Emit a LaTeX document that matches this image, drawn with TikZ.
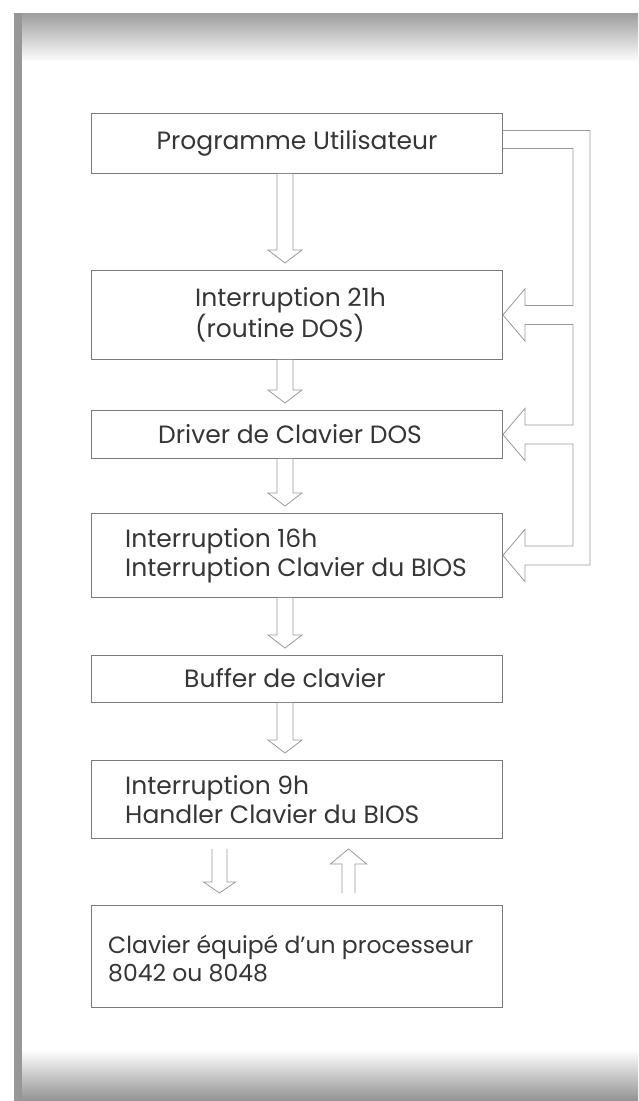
\documentclass[tikz,border=0pt]{standalone}
\usepackage{fontspec}
\setmainfont{Poppins}
\usetikzlibrary{calc}
\definecolor{boxline}{HTML}{7A7A7A}
\definecolor{arrline}{HTML}{9A9A9A}
\definecolor{txtcol}{HTML}{363636}
\definecolor{frameg}{HTML}{8C8C8C}
\tikzset{
  box/.style={draw=boxline, line width=0.9pt, fill=white, inner sep=0pt, anchor=north west, minimum width=411pt},
  txt/.style={inner sep=0pt, text=txtcol, font=\fontsize{25}{29}\selectfont, align=left},
  txtsmall/.style={txt, font=\fontsize{23.5}{28}\selectfont},
  harrow/.style={draw=arrline, line width=0.8pt, fill=white, line join=miter},
  pipe/.style={draw=arrline, line width=0.8pt, line join=miter}
}
% #1 start, #2 tip, #3 shaft half width, #4 head half width, #5 signed head length
\newcommand\hollowarrow[5]{%
  \draw[harrow] ($(#1)+(-#3,0)$) -- ($(#2)+(-#3,#5)$) -- ($(#2)+(-#4,#5)$) -- (#2)
    -- ($(#2)+(#4,#5)$) -- ($(#2)+(#3,#5)$) -- ($(#1)+(#3,0)$);}
\begin{document}
\begin{tikzpicture}[x=1pt,y=-1pt]
\useasboundingbox (0,0) rectangle (638,1101);
% page frame
\fill[white] (0,0) rectangle (638,1101);
\shade[top color=frameg!85, bottom color=white] (14,13) rectangle (638,62);
\shade[top color=white, bottom color=frameg!95] (14,1050) rectangle (638,1101);
\fill[frameg!90] (14,13) rectangle (22,1101);

% boxes
\node[box, minimum height=60pt]  (b1) at (91,113) {};
\node[box, minimum height=89pt]  (b2) at (91,270) {};
\node[box, minimum height=48pt]  (b3) at (91,410) {};
\node[box, minimum height=84pt]  (b4) at (91,513) {};
\node[box, minimum height=47pt]  (b5) at (91,655) {};
\node[box, minimum height=78pt]  (b6) at (91,760) {};
\node[box, minimum height=102pt] (b7) at (91,905) {};

% texts
\node[txt] (t1) at (297,143) {Programme Utilisateur};
\node[txt, anchor=west] (t2) at ($(b2.west)+(104,0)$) {Interruption 21h\\(routine DOS)};
\node[txt] (t3) at (290,434) {Driver de Clavier DOS};
\node[txt, anchor=west] (t4) at ($(b4.west)+(34,0)$) {Interruption 16h\\Interruption Clavier du BIOS};
\node[txt] (t5) at (285,678.5) {Buffer de clavier};
\node[txt, anchor=west] (t6) at ($(b6.west)+(34,0)$) {Interruption 9h\\Handler Clavier du BIOS};
\node[txtsmall, anchor=west] (t7) at ($(b7.west)+(17,2)$) {Clavier équipé d’un processeur\\8042 ou 8048};

% main hollow down arrows
\coordinate (cx) at (285,0);
\foreach \a/\b [count=\i] in {b1/b2,b2/b3,b3/b4,b4/b5,b5/b6}{
  \coordinate (s\i) at (cx |- \a.south);
  \coordinate (n\i) at (cx |- \b.north);
  \coordinate (e\i) at ($(n\i)+(0,-7)$);
  \hollowarrow{s\i}{e\i}{8}{17}{-13}
}
% arrows between handler and keyboard
\coordinate (lx) at (219.5,0);
\coordinate (ux) at (348.5,0);
\coordinate (ls0) at (lx |- b6.south);
\coordinate (ls) at ($(ls0)+(0,10)$);
\coordinate (le0) at (lx |- b7.north);
\coordinate (le) at ($(le0)+(0,-12)$);
\hollowarrow{ls}{le}{7.5}{16}{-11}
\coordinate (us0) at (ux |- b7.north);
\coordinate (us) at ($(us0)+(0,-12)$);
\coordinate (ue0) at (ux |- b6.south);
\coordinate (ue) at ($(ue0)+(0,10)$);
\hollowarrow{us}{ue}{6.5}{18}{15}

% branching hollow pipe on the right
\coordinate (p2) at (b2.east);
\coordinate (p3) at (b3.east);
\coordinate (p4) at (b4.east);
\draw[pipe] ($(b1.east)+(0,-13)$) -- ($(b1.east)+(87,-13)$)
  -- ($(p4)+(87,9.5)$) -- ($(p4)+(22,9.5)$) -- ($(p4)+(22,26)$) -- (p4)
  -- ($(p4)+(22,-26)$) -- ($(p4)+(22,-9.5)$) -- ($(p4)+(70,-9.5)$)
  -- ($(p3)+(70,9.5)$) -- ($(p3)+(22,9.5)$) -- ($(p3)+(22,26)$) -- (p3)
  -- ($(p3)+(22,-26)$) -- ($(p3)+(22,-9.5)$) -- ($(p3)+(70,-9.5)$)
  -- ($(p2)+(70,9.5)$) -- ($(p2)+(22,9.5)$) -- ($(p2)+(22,26)$) -- (p2)
  -- ($(p2)+(22,-26)$) -- ($(p2)+(22,-9.5)$) -- ($(p2)+(70,-9.5)$)
  -- ($(b1.east)+(70,5)$) -- ($(b1.east)+(0,5)$);
\end{tikzpicture}
\end{document}
